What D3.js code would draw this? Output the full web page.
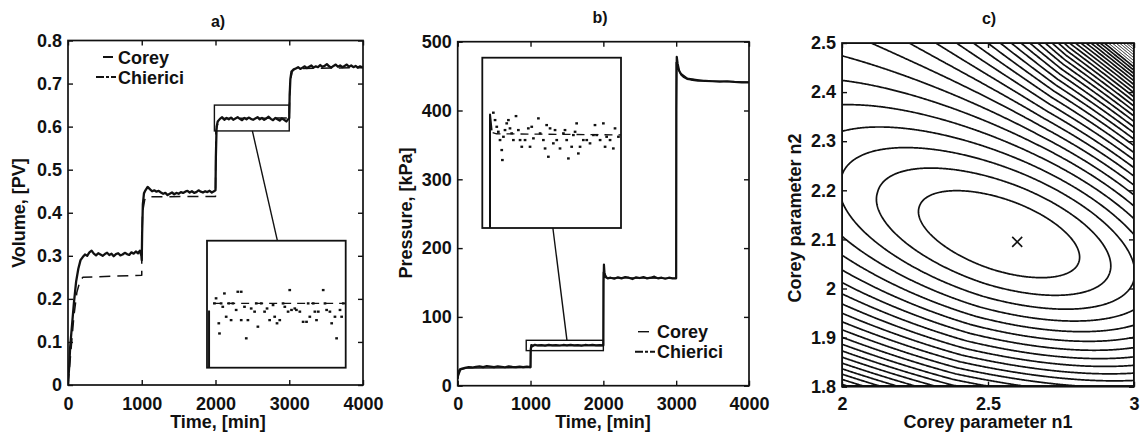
<!DOCTYPE html>
<html><head><meta charset="utf-8">
<script src="https://cdn.jsdelivr.net/npm/d3@7"></script>
<style>body{margin:0;background:#fff}</style>
</head><body><svg id="c" width="1142" height="441"></svg>
<script>
// ---------------- DATA ----------------
const timeTicks = [0, 1000, 2000, 3000, 4000];
const volumeTicks = [0, 0.1, 0.2, 0.3, 0.4, 0.5, 0.6, 0.7, 0.8];
const pressureTicks = [0, 100, 200, 300, 400, 500];
const n1Ticks = [2, 2.5, 3];
const n2Ticks = [1.8, 1.9, 2, 2.1, 2.2, 2.3, 2.4, 2.5];
const timeDomain = [0, 4000];
const volumeDomain = [0, 0.8];
const pressureDomain = [0, 500];
const n1Domain = [2, 3];
const n2Domain = [1.8, 2.5];
const panelTitles = ["a)", "b)", "c)"];
const seriesNames = ["Corey", "Chierici"];

const volCorey = [[0,0],[40,0.08],[80,0.16],[120,0.215],[160,0.24],[200,0.25],[1000,0.255],[1000,0.3],[1010,0.40],[1040,0.43],[1080,0.437],[2000,0.438],[2005,0.59],[2040,0.612],[2080,0.619],[3000,0.62],[3008,0.70],[3040,0.728],[3080,0.735],[4000,0.737]];
const volChierici = [[0,0],[15,0.04],[30,0.09],[50,0.13],[80,0.19],[110,0.24],[140,0.27],[170,0.29],[200,0.297],[230,0.303],[260,0.30],[290,0.308],[320,0.312],[350,0.305],[380,0.301],[410,0.306],[440,0.303],[470,0.30],[500,0.304],[530,0.307],[560,0.302],[590,0.305],[620,0.299],[650,0.304],[680,0.306],[710,0.301],[740,0.303],[770,0.307],[800,0.304],[830,0.302],[860,0.308],[890,0.305],[920,0.31],[950,0.306],[975,0.312],[995,0.30],[1000,0.29],[1005,0.35],[1015,0.42],[1030,0.445],[1050,0.452],[1080,0.46],[1110,0.455],[1140,0.45],[1170,0.452],[1200,0.449],[1230,0.451],[1260,0.447],[1290,0.444],[1320,0.446],[1350,0.441],[1380,0.444],[1410,0.447],[1440,0.443],[1470,0.446],[1500,0.444],[1530,0.448],[1560,0.446],[1590,0.449],[1620,0.451],[1650,0.447],[1680,0.45],[1710,0.446],[1740,0.448],[1770,0.452],[1800,0.449],[1830,0.447],[1860,0.45],[1890,0.448],[1920,0.451],[1950,0.447],[1980,0.45],[2000,0.452],[2005,0.53],[2015,0.6],[2030,0.612],[2060,0.618],[2090,0.622],[2120,0.616],[2150,0.62],[2180,0.617],[2210,0.621],[2240,0.616],[2270,0.619],[2300,0.622],[2330,0.618],[2360,0.615],[2390,0.62],[2420,0.617],[2450,0.621],[2480,0.618],[2510,0.616],[2540,0.619],[2570,0.622],[2600,0.617],[2630,0.62],[2660,0.616],[2690,0.619],[2720,0.623],[2750,0.618],[2780,0.615],[2810,0.62],[2840,0.617],[2870,0.614],[2900,0.619],[2930,0.616],[2960,0.612],[2990,0.618],[3000,0.62],[3005,0.67],[3015,0.71],[3030,0.728],[3060,0.733],[3090,0.735],[3120,0.738],[3150,0.734],[3180,0.737],[3210,0.74],[3240,0.736],[3270,0.739],[3300,0.742],[3330,0.737],[3360,0.74],[3390,0.738],[3420,0.743],[3450,0.739],[3480,0.741],[3510,0.745],[3540,0.74],[3570,0.737],[3600,0.741],[3630,0.744],[3660,0.739],[3690,0.742],[3720,0.738],[3750,0.741],[3780,0.744],[3810,0.739],[3840,0.742],[3870,0.738],[3900,0.741],[3930,0.737],[3960,0.74],[3990,0.738],[4000,0.739]];

const presCorey = [[0,12],[40,23],[120,25.5],[1000,26.5],[1000,55],[1050,58.5],[2000,58.5],[2000,165],[2050,157],[3000,156],[3000,470],[3050,455],[3150,447],[3400,443],[4000,441]];
const presChierici = [[0,10],[10,20],[30,24],[60,25],[100,26],[150,27],[200,26.5],[250,27.5],[300,28],[350,27],[400,28.5],[450,27.8],[500,27],[550,28.2],[600,27.5],[650,26.8],[700,28],[750,27.3],[800,26.9],[850,27.6],[900,27],[950,27.8],[1000,27],[1003,50],[1010,59],[1030,58],[1060,59.5],[1100,58.5],[1150,59],[1200,58.2],[1250,59.3],[1300,58.6],[1350,59.1],[1400,58.4],[1450,59.2],[1500,58.7],[1550,59.4],[1600,58.5],[1650,59],[1700,58.3],[1750,59.2],[1800,58.8],[1850,59.3],[1900,58.6],[1950,59],[2000,58.5],[2003,150],[2008,176],[2015,165],[2030,158],[2060,156],[2100,157],[2150,155.5],[2200,157.5],[2250,156],[2300,158],[2350,157],[2400,155],[2450,157.5],[2500,156.5],[2550,158],[2600,156],[2650,157],[2700,158.5],[2750,156],[2800,157],[2850,155.5],[2900,157],[2950,156],[3000,156],[3003,400],[3008,478],[3020,468],[3040,458],[3070,452],[3100,449],[3150,446],[3200,445],[3300,443.5],[3400,443],[3500,442.5],[3600,442],[3700,442.5],[3800,441.5],[3900,441],[4000,441]];

// zoom windows (time range, value range)
const zoomVolT = [1985, 3000], zoomVolV = [0.59, 0.65];
const zoomPresT = [941, 2000], zoomPresV = [51, 66];
const connectorVolT = [2500, 2500];   // main rect bottom -> inset top
const connectorPresT = [1500, 1480];  // main rect top -> inset bottom

const insetVolStep = [[2000,0.55],[2000,0.617]];
const insetVolCorey = [[2030,0.6204],[3000,0.6204]];
const insetVolPoints = [[2039,0.6204],[2051,0.6228],[2071,0.611],[2076,0.6062],[2088,0.6204],[2100,0.6188],[2112,0.6251],[2125,0.6141],[2144,0.6204],[2161,0.6125],[2174,0.6204],[2198,0.6173],[2210,0.6259],[2235,0.6259],[2235,0.6125],[2259,0.6188],[2272,0.6039],[2284,0.6125],[2308,0.618],[2333,0.6165],[2345,0.6204],[2357,0.6094],[2382,0.6204],[2406,0.6165],[2424,0.618],[2443,0.6125],[2468,0.6196],[2480,0.6141],[2497,0.611],[2517,0.6125],[2541,0.6204],[2554,0.6188],[2578,0.6165],[2590,0.6267],[2603,0.6173],[2627,0.618],[2639,0.6173],[2664,0.6165],[2688,0.6117],[2713,0.6117],[2725,0.6204],[2737,0.6141],[2762,0.6204],[2774,0.6165],[2786,0.6125],[2799,0.6165],[2835,0.6267],[2848,0.6204],[2860,0.6173],[2884,0.6165],[2897,0.611],[2921,0.6141],[2933,0.6039],[2958,0.6173],[2970,0.6141],[2982,0.6204]];

const insetPresStep = [[1000,40],[1000,61],[1012,59.6]];
const insetPresCorey = [[1020,59.4],[1050,59.3],[2000,59.2]];
const insetPresPoints = [[1025,61.16],[1038,60.51],[1051,59.92],[1063,59.48],[1076,58.75],[1089,57.87],[1094,56.99],[1102,59.04],[1114,59.63],[1127,60.22],[1140,60.51],[1152,59.78],[1165,59.34],[1178,58.75],[1198,60.86],[1216,59.63],[1229,58.75],[1242,58.16],[1267,58.75],[1292,59.78],[1305,58.16],[1318,59.92],[1331,58.9],[1369,60.66],[1382,59.34],[1407,58.75],[1420,58.01],[1432,60.07],[1445,57.28],[1458,59.78],[1483,58.46],[1496,59.63],[1509,58.75],[1534,58.01],[1560,59.34],[1572,59.63],[1585,58.75],[1598,57.13],[1623,58.16],[1636,59.19],[1649,59.48],[1661,60.22],[1674,57.57],[1687,58.16],[1712,58.75],[1738,58.75],[1763,58.46],[1789,59.19],[1801,60.07],[1814,59.19],[1840,58.75],[1865,60.22],[1878,58.16],[1890,59.04],[1916,58.75],[1941,58.01],[1954,59.78],[1980,59.04]];

// misfit surface model for panel c (shape)
const misfitCenter = [2.553, 2.107];
const misfitScale = [292, 491];
const misfitQuad = [1, -1.96, 3.475];
const misfitSoft = 128.6, misfitStep = 17.5, misfitTilt = 0.348;
const misfitSkew = [0.0016, 0.0009, 9.9e-6, 5.0e-8, 0.9, 9e-6];
const contourLevels = d3.range(1, 90, 1);
const optimum = [2.6, 2.095];

// ---------------- DRAWING ----------------
const svg = d3.select("#c");
const FONT = "'Liberation Sans', Arial, Helvetica, sans-serif";
const INK = "#111";

function txt(x, y, s, anchor, size, rot) {
  const t = svg.append("text").attr("font-family", FONT).attr("font-size", size || 18)
    .attr("font-weight", "bold").attr("fill", INK).attr("text-anchor", anchor || "start").text(s);
  if (rot) t.attr("transform", `translate(${x},${y}) rotate(${rot})`);
  else t.attr("x", x).attr("y", y);
  return t;
}

function frameAxes(box, x, y, xTicks, yTicks, xFmt, yFmt, pad) {
  const g = svg.append("g");
  const ax = (axis, tr) => {
    const a = g.append("g").attr("transform", tr).call(axis);
    a.select(".domain").remove();
    a.selectAll("line").attr("stroke", INK).attr("stroke-width", 1.4);
    a.selectAll("text").attr("font-family", FONT).attr("font-size", 18).attr("font-weight", "bold").attr("fill", INK);
  };
  ax(d3.axisBottom(x).tickValues(xTicks).tickFormat(xFmt).tickSize(-5).tickPadding(pad), `translate(0,${box.b})`);
  ax(d3.axisTop(x).tickValues(xTicks).tickFormat("").tickSize(-5), `translate(0,${box.t})`);
  ax(d3.axisLeft(y).tickValues(yTicks).tickFormat(yFmt).tickSize(-5).tickPadding(6), `translate(${box.l},0)`);
  ax(d3.axisRight(y).tickValues(yTicks).tickFormat("").tickSize(-5), `translate(${box.r},0)`);
  g.append("rect").attr("x", box.l).attr("y", box.t).attr("width", box.r - box.l).attr("height", box.b - box.t)
    .attr("fill", "none").attr("stroke", INK).attr("stroke-width", 1.7);
}

function clipFor(id, box) {
  svg.append("clipPath").attr("id", id).append("rect")
    .attr("x", box.l).attr("y", box.t).attr("width", box.r - box.l).attr("height", box.b - box.t);
  return `url(#${id})`;
}

function drawLine(g, data, x, y, w, dash) {
  g.append("path").datum(data).attr("d", d3.line().x(d => x(d[0])).y(d => y(d[1])))
    .attr("fill", "none").attr("stroke", INK).attr("stroke-width", w)
    .attr("stroke-linejoin", "round").attr("stroke-dasharray", dash || null);
}

function inset(box, tDom, vDom, stepData, coreyData, pts, clipId) {
  const xi = d3.scaleLinear().domain(tDom).range([box.l, box.r]);
  const yi = d3.scaleLinear().domain(vDom).range([box.b, box.t]);
  svg.append("rect").attr("x", box.l).attr("y", box.t).attr("width", box.r - box.l).attr("height", box.b - box.t)
    .attr("fill", "#fff").attr("stroke", INK).attr("stroke-width", 1.8);
  const g = svg.append("g").attr("clip-path", clipFor(clipId, box));
  drawLine(g, stepData, xi, yi, 2);
  drawLine(g, coreyData, xi, yi, 1.3, "8,6");
  g.selectAll("rect.p").data(pts).join("rect").attr("class", "p")
    .attr("x", d => xi(d[0]) - 1.3).attr("y", d => yi(d[1]) - 1.1).attr("width", 2.7).attr("height", 2.3).attr("fill", INK);
  return { xi, yi };
}

// ---- Panel a ----
const boxA = { l: 68, r: 363, t: 40.5, b: 385 };
const xA = d3.scaleLinear().domain(timeDomain).range([boxA.l, boxA.r]);
const yA = d3.scaleLinear().domain(volumeDomain).range([boxA.b, boxA.t]);
{
  const g = svg.append("g").attr("clip-path", clipFor("ca", boxA));
  drawLine(g, volCorey, xA, yA, 1.5, "11,7");
  drawLine(g, volChierici, xA, yA, 2.3);
  frameAxes(boxA, xA, yA, timeTicks, volumeTicks, d3.format("d"), d => d === 0 ? "0" : d.toFixed(1), 12.2);
  svg.append("rect").attr("x", xA(zoomVolT[0])).attr("y", yA(zoomVolV[1]))
    .attr("width", xA(zoomVolT[1]) - xA(zoomVolT[0])).attr("height", yA(zoomVolV[0]) - yA(zoomVolV[1]))
    .attr("fill", "none").attr("stroke", INK).attr("stroke-width", 1.4);
  const ib = { l: 207, r: 345.7, t: 240.7, b: 367.7 };
  const s = inset(ib, zoomVolT, zoomVolV, insetVolStep, insetVolCorey, insetVolPoints, "cia");
  svg.append("line").attr("x1", xA(connectorVolT[0])).attr("y1", yA(zoomVolV[0]))
    .attr("x2", s.xi(connectorVolT[1])).attr("y2", ib.t).attr("stroke", INK).attr("stroke-width", 1.4);
  svg.append("line").attr("x1", 103).attr("x2", 113).attr("y1", 57).attr("y2", 57).attr("stroke", INK).attr("stroke-width", 2);
  svg.append("line").attr("x1", 96).attr("x2", 116).attr("y1", 77).attr("y2", 77).attr("stroke", INK).attr("stroke-width", 2).attr("stroke-dasharray", "8,2,3,2");
  txt(118, 63.5, seriesNames[0]);
  txt(118, 83.5, seriesNames[1]);
  txt(218, 27, panelTitles[0], "middle", 16);
  txt(218, 428, "Time, [min]", "middle");
  txt(25, 213, "Volume, [PV]", "middle", 18, -90);
}

// ---- Panel b ----
const boxB = { l: 457.7, r: 749, t: 41.7, b: 385.7 };
const xB = d3.scaleLinear().domain(timeDomain).range([boxB.l, boxB.r]);
const yB = d3.scaleLinear().domain(pressureDomain).range([boxB.b, boxB.t]);
{
  const g = svg.append("g").attr("clip-path", clipFor("cb", boxB));
  drawLine(g, presCorey, xB, yB, 1.4);
  drawLine(g, presChierici, xB, yB, 2.2);
  frameAxes(boxB, xB, yB, timeTicks, pressureTicks, d3.format("d"), d3.format("d"), 11.5);
  svg.append("rect").attr("x", xB(zoomPresT[0])).attr("y", yB(zoomPresV[1]))
    .attr("width", xB(zoomPresT[1]) - xB(zoomPresT[0])).attr("height", yB(zoomPresV[0]) - yB(zoomPresV[1]))
    .attr("fill", "none").attr("stroke", INK).attr("stroke-width", 1.4);
  const ib = { l: 482.3, r: 621, t: 57.7, b: 228 };
  const s = inset(ib, zoomPresT, zoomPresV, insetPresStep, insetPresCorey, insetPresPoints, "cib");
  svg.append("line").attr("x1", xB(connectorPresT[0])).attr("y1", yB(zoomPresV[1]))
    .attr("x2", s.xi(connectorPresT[1])).attr("y2", ib.b).attr("stroke", INK).attr("stroke-width", 1.4);
  svg.append("line").attr("x1", 638).attr("x2", 649).attr("y1", 331.7).attr("y2", 331.7).attr("stroke", INK).attr("stroke-width", 1.4);
  svg.append("line").attr("x1", 635).attr("x2", 655).attr("y1", 351.7).attr("y2", 351.7).attr("stroke", INK).attr("stroke-width", 2).attr("stroke-dasharray", "8,2,3,2");
  txt(657, 338, seriesNames[0]);
  txt(657, 358, seriesNames[1]);
  txt(600, 23, panelTitles[1], "middle", 16);
  txt(603, 428, "Time, [min]", "middle");
  txt(412, 213, "Pressure, [kPa]", "middle", 18, -90);
}

// ---- Panel c ----
const boxC = { l: 842, r: 1134, t: 43, b: 386.7 };
const xC = d3.scaleLinear().domain(n1Domain).range([boxC.l, boxC.r]);
const yC = d3.scaleLinear().domain(n2Domain).range([boxC.b, boxC.t]);
function misfit(n1, n2) {
  const x = (n1 - misfitCenter[0]) * misfitScale[0];
  const y = (misfitCenter[1] - n2) * misfitScale[1];
  const q = misfitQuad[0] * x * x + misfitQuad[1] * x * y + misfitQuad[2] * y * y;
  const base = (Math.sqrt(misfitSoft * misfitSoft + q) - misfitSoft) / misfitStep;
  const u = (x + misfitTilt * y) / 1.059, v = (misfitTilt * x - y) / 1.059;
  const w = (misfitSkew[4] * x - y) / Math.hypot(misfitSkew[4], 1);
  const lnR = (u > 0 ? misfitSkew[0] * u : misfitSkew[1] * u)
    + (v < 0 ? misfitSkew[2] * v * v : 0)
    + (w > 0 ? misfitSkew[3] * w * w * w : 0)
    - (u < 0 && v > 0 ? misfitSkew[5] * (-u) * v : 0);
  return base * Math.exp(lnR);
}
{
  const NX = 300, NY = 350;
  const grid = new Float64Array(NX * NY);
  for (let j = 0; j < NY; j++) for (let i = 0; i < NX; i++) {
    const n1 = n1Domain[0] + (i + 0.5) / NX * (n1Domain[1] - n1Domain[0]);
    const n2 = n2Domain[1] - (j + 0.5) / NY * (n2Domain[1] - n2Domain[0]);
    grid[j * NX + i] = misfit(n1, n2);
  }
  const cs = d3.contours().size([NX, NY]).thresholds(contourLevels)(grid);
  const proj = d3.geoTransform({ point(px, py) {
    this.stream.point(xC(n1Domain[0] + px / NX * (n1Domain[1] - n1Domain[0])), yC(n2Domain[1] - py / NY * (n2Domain[1] - n2Domain[0])));
  } });
  const g = svg.append("g").attr("clip-path", clipFor("cc", boxC));
  g.selectAll("path").data(cs).join("path").attr("d", d3.geoPath(proj))
    .attr("fill", "none").attr("stroke", INK).attr("stroke-width", d => d.value > 30 ? 1.0 : 1.7);
  frameAxes(boxC, xC, yC, n1Ticks, n2Ticks, d3.format("~g"), d3.format("~g"), 10.5);
  const ox = xC(optimum[0]), oy = yC(optimum[1]);
  svg.append("path").attr("d", `M${ox-5},${oy-5}L${ox+5},${oy+5}M${ox-5},${oy+5}L${ox+5},${oy-5}`)
    .attr("stroke", INK).attr("stroke-width", 1.6);
  txt(989, 24, panelTitles[2], "middle", 16);
  txt(988, 428, "Corey parameter n1", "middle");
  txt(801, 218, "Corey parameter n2", "middle", 18, -90);
}
</script></body></html>
